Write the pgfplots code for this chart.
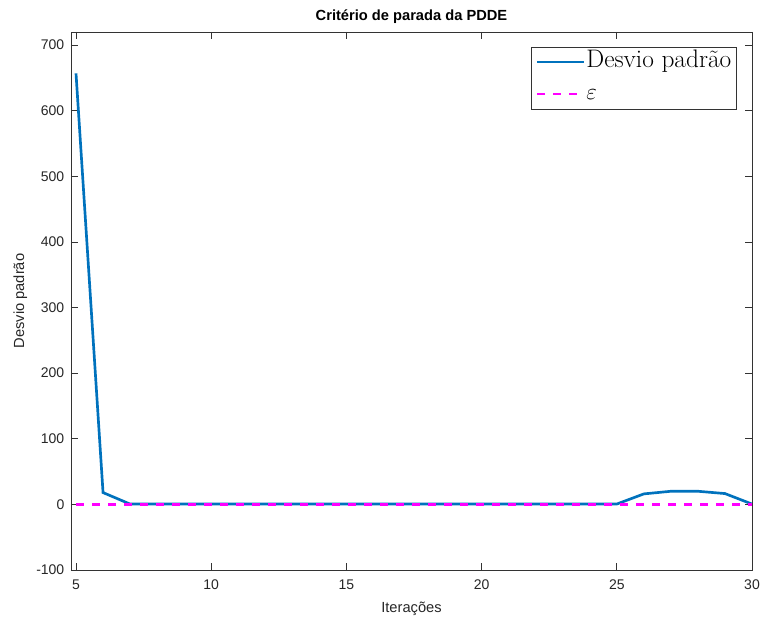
\documentclass[border=0pt]{standalone}
\usepackage{fontspec}
\setmainfont{Liberation Sans}
\newfontfamily\lmr{Latin Modern Roman}
\usepackage{pgfplots}
\pgfplotsset{compat=1.18}
\definecolor{mblue}{rgb}{0,0.447,0.741}
\definecolor{mmag}{rgb}{1,0,1}
\begin{document}
\begin{tikzpicture}
\begin{axis}[
  scale only axis,
  width=510.75pt, height=403.5pt,
  xmin=4.815, xmax=30, ymin=-100, ymax=720,
  xtick={5,10,15,20,25,30},
  ytick={-100,0,100,200,300,400,500,600,700},
  tick align=inside,
  major tick length=5pt,
  tick style={color=black!80, line width=0.5pt},
  axis line style={color=black!80, line width=0.6pt},
  /pgf/number format/assume math mode=true,
  ticklabel style={font=\fontsize{10.5}{12}\selectfont, color=black!85},
  xticklabel style={yshift=-4pt},
  yticklabel style={xshift=-1.5pt},
  title={\textbf{Critério de parada da PDDE}},
  title style={font=\fontsize{11}{13}\selectfont, yshift=-3pt},
  xlabel={Iterações},
  ylabel={Desvio padrão},
  label style={font=\fontsize{11}{13}\selectfont, color=black!85},
  xlabel style={yshift=-2.5pt},
  ylabel style={yshift=0pt},
  legend style={at={(0.978,0.973)}, anchor=north east, font=\lmr\fontsize{19}{21}\selectfont,
    draw=black!80, line width=0.6pt, inner xsep=3pt, inner ysep=1.25pt, row sep=4pt,
    nodes={inner sep=1pt, text height=13pt, text depth=5pt}},
  legend cell align=left,
  legend image code/.code={\draw[#1] (0pt,0pt) -- (35pt,0pt);},
]
\coordinate (sw) at (rel axis cs:0,0);
\coordinate (ne) at (rel axis cs:1,1);
\addplot[color=mblue, line width=2pt] coordinates {
 (5,657) (6,18) (7,0.5) (8,0.5) (9,0.5) (10,0.5) (11,0.5) (12,0.5) (13,0.5) (14,0.5)
 (15,0.5) (16,0.5) (17,0.5) (18,0.5) (19,0.5) (20,0.5) (21,0.5) (22,0.5) (23,0.5)
 (24,0.5) (25,0.5) (26,16) (27,20) (28,20) (29,16.5) (30,0.5)
};
\addlegendentry{Desvio padrão}
\addplot[color=mmag, line width=2pt, dash pattern=on 6pt off 6pt] coordinates {
 (5,0) (30,0)
};
\addlegendentry{$\varepsilon$}
\end{axis}
\pgfresetboundingbox
\path[use as bounding box] ([shift={(-53.25pt,-37.5pt)}]sw) rectangle ([shift={(6pt,24pt)}]ne);
\end{tikzpicture}
\end{document}
